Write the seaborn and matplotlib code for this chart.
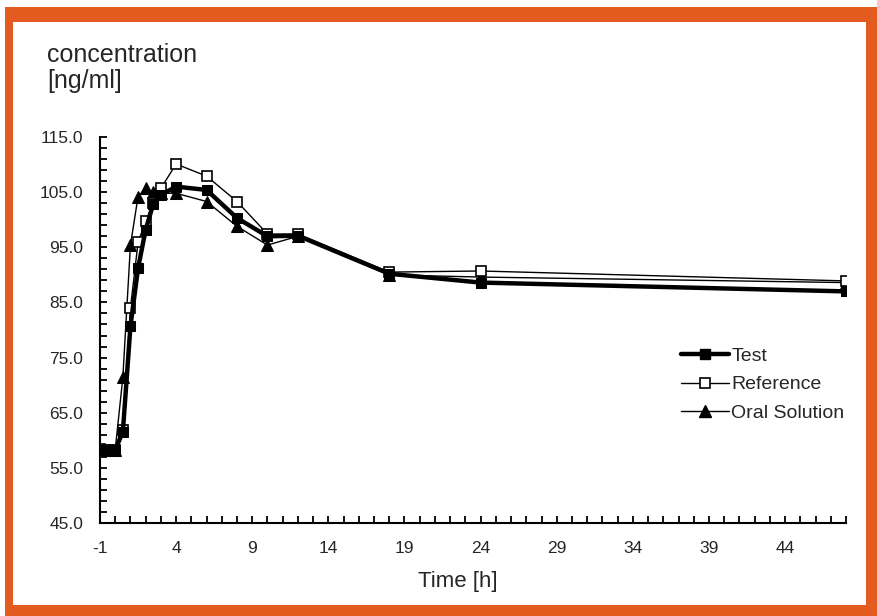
import numpy as np
import pandas as pd
import seaborn as sns
import matplotlib.pyplot as plt
from matplotlib.patches import Rectangle
from matplotlib.lines import Line2D
from matplotlib.ticker import FixedLocator, FormatStrFormatter

# data
time_h = [-1, -0.5, 0, 0.5, 1, 1.5, 2, 2.5, 3, 4, 6, 8, 10, 12, 18, 24, 48]
test = [58.3, 58.3, 58.3, 61.5, 80.7, 91.2, 98.2, 102.9, 104.5, 106.0, 105.4, 100.3, 97.0, 97.1, 90.2, 88.6, 87.0]
reference = [58.4, 58.3, 58.3, 61.9, 84.0, 95.9, 99.7, 103.0, 105.7, 110.1, 107.9, 103.3, 97.4, 97.4, 90.5, 90.7, 88.9]
oral = [58.5, 58.3, 58.3, 71.4, 95.4, 104.2, 105.7, 105.0, 104.8, 104.8, 103.3, 98.8, 95.4, 97.0, 90.0, 89.6, 88.6]

series_names = ['Test', 'Reference', 'Oral Solution']
xticks = [-1, 4, 9, 14, 19, 24, 29, 34, 39, 44]
yticks = [45, 55, 65, 75, 85, 95, 105, 115]
orange = '#E35B1E'

sns.set_style('white')
plt.rcParams['font.family'] = ['Liberation Sans', 'DejaVu Sans']
plt.rcParams['axes.unicode_minus'] = False

fig = plt.figure(figsize=(8.77, 6.16), dpi=100)

# orange frame around the chart
fig.patches.append(Rectangle((5 / 877, 0), 1, 1 - 7 / 616, transform=fig.transFigure,
                             facecolor=orange, edgecolor='none', zorder=-10))
fig.patches.append(Rectangle((13 / 877, 11 / 616), (866 - 13) / 877, (605 - 22) / 616,
                             transform=fig.transFigure, facecolor='white', edgecolor='none', zorder=-9))

ax = fig.add_axes([100 / 877, 1 - 523 / 616, (846 - 100) / 877, (523 - 137) / 616])
ax.patch.set_alpha(0)

sns.lineplot(x=time_h, y=oral, ax=ax, color='black', linewidth=1.0, marker='^',
             markersize=8, markerfacecolor='black', markeredgecolor='black')
sns.lineplot(x=time_h, y=reference, ax=ax, color='black', linewidth=1.0, marker='s',
             markersize=7, markerfacecolor='white', markeredgecolor='black', markeredgewidth=1.2)
sns.lineplot(x=time_h, y=test, ax=ax, color='black', linewidth=3.2, marker='s',
             markersize=7, markerfacecolor='black', markeredgecolor='black')

ax.set_xlim(-1, 48)
ax.set_ylim(45, 115)
ax.set_xticks(xticks)
ax.xaxis.set_minor_locator(FixedLocator(np.arange(-1, 49, 1)))
ax.set_yticks(yticks)
ax.yaxis.set_minor_locator(FixedLocator(np.arange(45, 116, 2)))
ax.yaxis.set_major_formatter(FormatStrFormatter('%.1f'))
ax.tick_params(axis='both', which='both', direction='in', length=5, width=1.3,
               color='black', labelsize=12.5)
ax.tick_params(axis='x', pad=13)
ax.tick_params(axis='y', pad=12)
ax.tick_params(left=True, bottom=True, which='both')

for side in ['top', 'right']:
    ax.spines[side].set_visible(False)
for side in ['left', 'bottom']:
    ax.spines[side].set_color('black')
    ax.spines[side].set_linewidth(1.5)

ax.set_xlabel('Time [h]', fontsize=16)
ax.xaxis.set_label_coords(0.479, -0.125)
ax.set_ylabel('')

fig.text(47 / 877, 1 - 93 / 616, 'concentration\n[ng/ml]', fontsize=18,
         ha='left', va='bottom', linespacing=1.1)

handles = [
    Line2D([], [], color='black', linewidth=3.2, marker='s', markersize=7),
    Line2D([], [], color='black', linewidth=1.0, marker='s', markersize=7,
           markerfacecolor='white', markeredgewidth=1.2),
    Line2D([], [], color='black', linewidth=1.0, marker='^', markersize=8),
]
ax.legend(handles, series_names, loc='upper left', bbox_to_anchor=(0.768, 0.475),
          frameon=False, fontsize=14, handlelength=2.5, handletextpad=0.1,
          labelspacing=0.55, borderaxespad=0)

fig.savefig('out.png', dpi=100)
